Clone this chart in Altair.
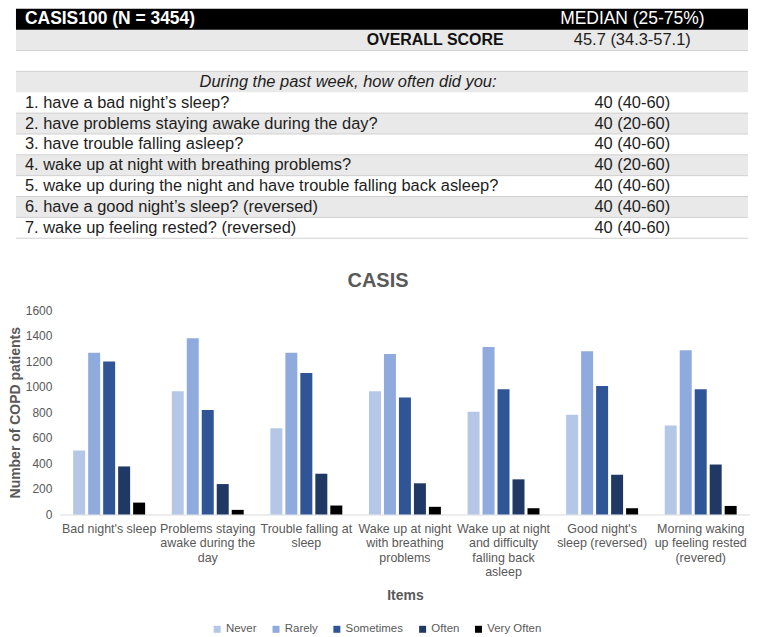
import altair as alt
import pandas as pd

FONT = "Liberation Sans"

# ---------------- table data ----------------
header_left = "CASIS100 (N = 3454)"
header_right = "MEDIAN (25-75%)"
overall_label = "OVERALL SCORE"
overall_value = "45.7 (34.3-57.1)"
question_intro = "During the past week, how often did you:"
questions = [
    "1. have a bad night\u2019s sleep?",
    "2. have problems staying awake during the day?",
    "3. have trouble falling asleep?",
    "4. wake up at night with breathing problems?",
    "5. wake up during the night and have trouble falling back asleep?",
    "6. have a good night\u2019s sleep? (reversed)",
    "7. wake up feeling rested? (reversed)",
]
question_medians = ["40 (40-60)", "40 (20-60)", "40 (40-60)", "40 (20-60)",
                    "40 (40-60)", "40 (40-60)", "40 (40-60)"]

# ---------------- bar data ----------------
categories = [
    "Bad night's sleep",
    "Problems staying\nawake during the\nday",
    "Trouble falling at\nsleep",
    "Wake up at night\nwith breathing\nproblems",
    "Wake up at night\nand difficulty\nfalling back\nasleep",
    "Good night's\nsleep (reversed)",
    "Morning waking\nup feeling rested\n(revered)",
]
frequencies = ["Never", "Rarely", "Sometimes", "Often", "Very Often"]
never = [500, 965, 674, 965, 804, 780, 697]
rarely = [1265, 1380, 1265, 1255, 1310, 1278, 1286]
sometimes = [1198, 817, 1107, 915, 980, 1006, 980]
often = [376, 238, 319, 244, 275, 311, 391]
very_often = [93, 36, 70, 60, 49, 49, 67]
colors = ["#b4c7e7", "#8faadc", "#2f5597", "#203864", "#000000"]

# ---------------- table panel ----------------
N_ROWS = 11
q_rows = list(range(4, 4 + len(questions)))

def rows_df(rows):
    return pd.DataFrame({"y0": rows, "y1": [r + 1 for r in rows],
                         "ym": [r + 0.5 for r in rows]})

yscale = alt.Scale(domain=[0, N_ROWS], reverse=True, nice=False, zero=False)
# the table origin is aligned with the bar plot's left edge (page x ~59)
X0, X1 = -44, 690
LEFT_X, VAL_X = -35, 574

header_df = rows_df([0]).assign(left=header_left, right=header_right)
overall_df = rows_df([1]).assign(label=overall_label, value=overall_value)
intro_df = rows_df([3]).assign(label=question_intro)
q_df = rows_df(q_rows).assign(label=questions, value=question_medians)
gray_df = rows_df([1, 3] + [r for i, r in enumerate(q_rows) if i % 2 == 1])
rule_df = pd.DataFrame({"y": [2, 3] + [r + 1 for r in q_rows]})

header_rect = alt.Chart(header_df).mark_rect(color="#000000").encode(
    y=alt.Y("y0:Q", scale=yscale, axis=None), y2="y1:Q",
    x=alt.value(X0), x2=alt.value(X1))
gray_rect = alt.Chart(gray_df).mark_rect(color="#e9e9e9").encode(
    y=alt.Y("y0:Q", scale=yscale, axis=None), y2="y1:Q",
    x=alt.value(X0), x2=alt.value(X1))
rules = alt.Chart(rule_df).mark_rule(color="#d0d0d0", strokeWidth=1).encode(
    y=alt.Y("y:Q", scale=yscale, axis=None),
    x=alt.value(X0), x2=alt.value(X1))

txt = dict(font=FONT, baseline="middle")
TXT_COLOR = "#1e1e1e"
h_left = alt.Chart(header_df).mark_text(align="left", fontSize=17.5, fontWeight="bold",
                                        color="white", **txt).encode(
    y=alt.Y("ym:Q", scale=yscale, axis=None), x=alt.value(LEFT_X), text="left:N")
h_right = alt.Chart(header_df).mark_text(align="center", fontSize=17.5,
                                         color="white", **txt).encode(
    y=alt.Y("ym:Q", scale=yscale, axis=None), x=alt.value(VAL_X), text="right:N")
o_label = alt.Chart(overall_df).mark_text(align="right", fontSize=16, fontWeight="bold",
                                          color="#111111", **txt).encode(
    y=alt.Y("ym:Q", scale=yscale, axis=None), x=alt.value(445), text="label:N")
o_value = alt.Chart(overall_df).mark_text(align="center", fontSize=16.5,
                                          color=TXT_COLOR, **txt).encode(
    y=alt.Y("ym:Q", scale=yscale, axis=None), x=alt.value(VAL_X), text="value:N")
i_label = alt.Chart(intro_df).mark_text(align="center", fontSize=16.5, fontStyle="italic",
                                        color=TXT_COLOR, **txt).encode(
    y=alt.Y("ym:Q", scale=yscale, axis=None), x=alt.value(289), text="label:N")
q_label = alt.Chart(q_df).mark_text(align="left", fontSize=16.5,
                                    color=TXT_COLOR, **txt).encode(
    y=alt.Y("ym:Q", scale=yscale, axis=None), x=alt.value(LEFT_X), text="label:N")
q_value = alt.Chart(q_df).mark_text(align="center", fontSize=16.5,
                                    color=TXT_COLOR, **txt).encode(
    y=alt.Y("ym:Q", scale=yscale, axis=None), x=alt.value(VAL_X), text="value:N")

table = alt.layer(gray_rect, header_rect, rules, h_left, h_right, o_label, o_value,
                  i_label, q_label, q_value).properties(width=690, height=230)

# ---------------- bar panel ----------------
series = [never, rarely, sometimes, often, very_often]
records = []
for f, vals in zip(frequencies, series):
    for c, v in zip(categories, vals):
        records.append({"item": c, "freq": f, "count": v})
bar_df = pd.DataFrame(records)

GRAY = "#595959"
bars = alt.Chart(bar_df).mark_bar().encode(
    x=alt.X("item:N", sort=categories,
            scale=alt.Scale(paddingInner=0.24, paddingOuter=0.12),
            axis=alt.Axis(title="Items", labelExpr="split(datum.label, '\\n')",
                          labelAngle=0, labelPadding=8, labelFont=FONT,
                          labelFontSize=12.5, labelColor=GRAY, labelLineHeight=14.5,
                          labelOverlap=False, labelBaseline="top",
                          ticks=False, domainColor="#d9d9d9",
                          titleFont=FONT, titleFontSize=14, titleColor=GRAY,
                          titleFontWeight="bold", titlePadding=10)),
    xOffset=alt.XOffset("freq:N", sort=frequencies,
                        scale=alt.Scale(paddingInner=0.2, paddingOuter=0.1)),
    y=alt.Y("count:Q", scale=alt.Scale(domain=[0, 1600], nice=False),
            axis=alt.Axis(values=list(range(0, 1601, 200)), format="d", grid=False,
                          domain=False, ticks=False, labelPadding=8, labelFont=FONT,
                          labelFontSize=12, labelColor=GRAY,
                          title="Number of COPD patients", titleFont=FONT,
                          titleFontSize=14, titleFontWeight="bold", titleColor=GRAY,
                          titlePadding=3)),
    color=alt.Color("freq:N", sort=frequencies,
                    scale=alt.Scale(domain=frequencies, range=colors),
                    legend=alt.Legend(title=None, orient="none", direction="horizontal",
                                      legendX=152, legendY=314, symbolType="square",
                                      symbolSize=49, symbolStrokeWidth=0,
                                      labelFont=FONT, labelFontSize=11.5,
                                      labelColor=GRAY, labelOffset=3,
                                      columnPadding=13)),
).properties(
    width=692, height=205,
    title=alt.TitleParams("CASIS", font=FONT, fontSize=20, fontWeight="bold",
                          color=GRAY, offset=13, anchor="middle", dx=-27),
)

chart = alt.vconcat(table, bars, spacing=32).resolve_legend(
    color="independent").properties(padding=0).configure_view(stroke=None)

chart.save("out.html", embed_options={"renderer": "svg", "actions": False})
